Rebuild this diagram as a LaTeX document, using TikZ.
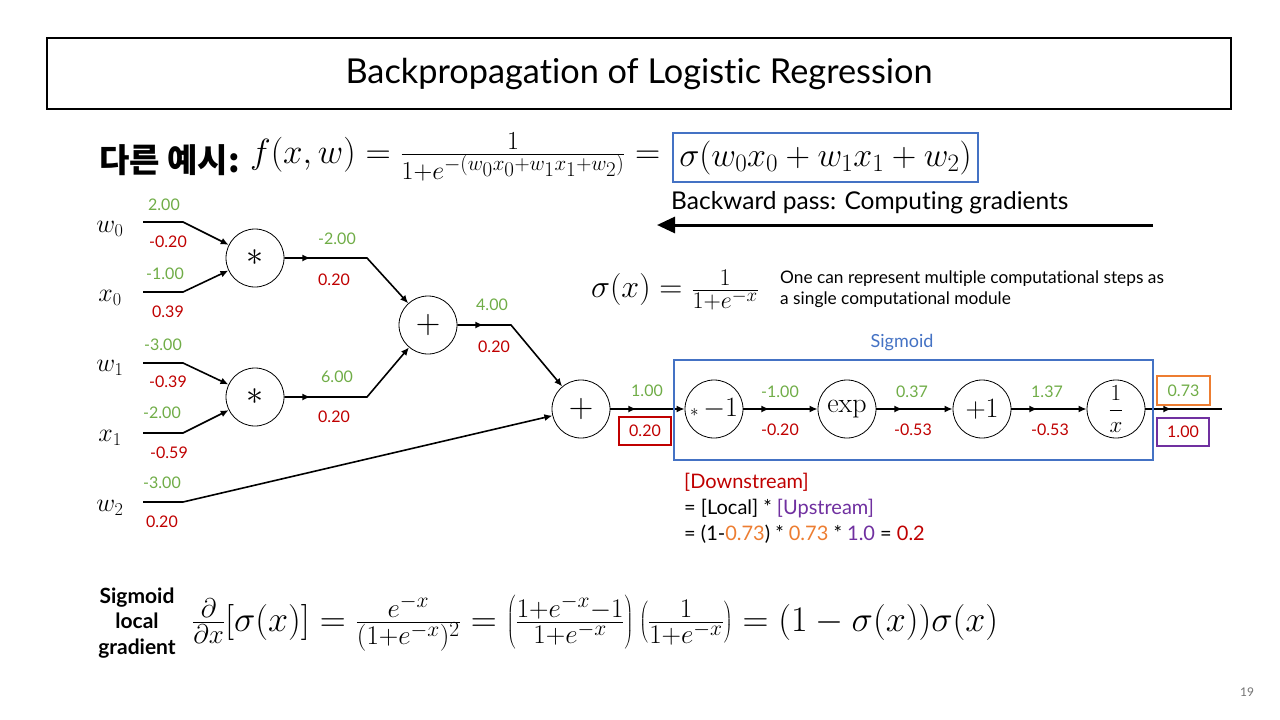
\RequirePackage{fix-cm}
\documentclass[tikz,border=0pt]{standalone}
\usepackage[no-math]{fontspec}
\setmainfont{Lato}[Ligatures=NoCommon]
\newfontfamily\kor{Noto Sans CJK KR}
\usetikzlibrary{arrows.meta,decorations.markings}
\DeclareMathSizes{36}{36}{27}{21.5}
\DeclareMathSizes{35}{35}{26}{21}
\DeclareMathSizes{34}{34}{25}{20}
\DeclareMathSizes{32}{32}{24}{19}
\definecolor{vgreen}{HTML}{70AD47}
\definecolor{vred}{HTML}{C00000}
\definecolor{vblue}{HTML}{4472C4}
\definecolor{vorange}{HTML}{ED7D31}
\definecolor{vpurple}{HTML}{7030A0}
\tikzset{
  gate/.style={circle, draw, line width=0.8pt, minimum size=58pt, inner sep=0pt, font=\fontsize{28}{28}\selectfont},
  fwd/.style={text=vgreen, font=\fontsize{16}{16}\selectfont, inner sep=0pt},
  bwd/.style={text=vred, font=\fontsize{16}{16}\selectfont, inner sep=0pt},
  conn/.style={line width=1.6pt},
  endarrow/.style={-{Latex[length=8pt,width=7pt]}},
  midarrow/.style={postaction={decorate}, decoration={markings, mark=at position 26pt with {\arrow{Latex[length=8pt,width=7pt]}}}},
  varlab/.style={font=\fontsize{26}{26}\selectfont, inner sep=0pt},
  valbox/.style={draw, line width=2.5pt, minimum width=52pt, minimum height=28pt, inner sep=0pt, font=\fontsize{16}{16}\selectfont}
}
\begin{document}
\begin{tikzpicture}[x=1pt,y=-1pt]
\useasboundingbox (0,0) rectangle (1280,720);
\fill[white] (0,0) rectangle (1280,720);

% title
\node[draw, line width=2pt, minimum width=1184pt, minimum height=71pt, inner sep=0pt,
  font=\fontsize{34.3}{34.3}\selectfont] (title) at (639,73.5) {Backpropagation of Logistic Regression};

% top equation
\node[anchor=west, inner sep=0pt, font=\kor\bfseries\fontsize{33}{33}\selectfont] (kor) at (99,160) {다른 예시:};
\node[anchor=west, inner sep=0pt, font=\fontsize{35}{35}\selectfont] (feq) at (250,157)
  {$f(x,w)=\frac{1}{1+e^{-(w_0x_0+w_1x_1+w_2)}}=$};
\node[draw=vblue, line width=2.5pt, minimum width=305pt, minimum height=49pt, inner sep=0pt,
  font=\fontsize{34}{34}\selectfont] (sbox) at (825.5,157.5) {$\sigma(w_0x_0+w_1x_1+w_2)$};

% backward pass
\node[anchor=west, inner sep=0pt, font=\fontsize{24.5}{24.5}\selectfont] (bp) at (671,203) {Backward pass: Computing gradients};
\coordinate (bpa) at (1153,225);
\coordinate (bpb) at (657,225);
\draw[line width=3pt, -{Triangle[length=18pt,width=16pt]}] (bpa) -- (bpb);

% sigma definition and note
\node[inner sep=0pt, font=\fontsize{32}{32}\selectfont] (sdef) at (675,290) {$\sigma(x)=\frac{1}{1+e^{-x}}$};
\node[anchor=west, align=left, inner sep=0pt, font=\fontsize{17.3}{21}\selectfont] (note) at (780,289)
  {One can represent multiple computational steps as\\a single computational module};

% input labels
\node[varlab] (lw0) at (110,229) {$w_0$};
\node[varlab] (lx0) at (110,298) {$x_0$};
\node[varlab] (lw1) at (110,368) {$w_1$};
\node[varlab] (lx1) at (110,438) {$x_1$};
\node[varlab] (lw2) at (110,508) {$w_2$};

\coordinate (w0s) at (143,222); \coordinate (w0b) at (183,222);
\coordinate (x0s) at (143,292); \coordinate (x0b) at (183,292);
\coordinate (w1s) at (143,363); \coordinate (w1b) at (183,363);
\coordinate (x1s) at (143,433); \coordinate (x1b) at (183,433);
\coordinate (w2s) at (143,502); \coordinate (w2b) at (183,502);

% gates
\node[gate, font=\fontsize{34}{34}\selectfont] (m1) at (255,258) {$\ast$};
\node[gate, font=\fontsize{34}{34}\selectfont] (m2) at (255,397) {$\ast$};
\node[gate, font=\fontsize{34}{34}\selectfont] (p1) at (428,325) {$+$};
\node[gate, font=\fontsize{34}{34}\selectfont] (p2) at (581,409) {$+$};
\node[gate] (n1) at (714,409) {{\fontsize{17}{17}\selectfont$\ast$}\,$-1$};
\node[gate, font=\fontsize{28}{28}\selectfont] (ex) at (847,409) {$\mathrm{exp}$};
\node[gate, font=\fontsize{28}{28}\selectfont] (a1) at (982,409) {$+1$};
\node[gate, font=\fontsize{23}{23}\selectfont] (inv) at (1116,409) {$\displaystyle\frac{1}{x}$};

\coordinate (m1b) at (367,258);
\coordinate (m2b) at (367,397);
\coordinate (p1b) at (511,325);
\coordinate (outc) at (1222,409);

% connectors
\draw[conn, endarrow] (w0s) -- (w0b) -- (m1);
\draw[conn, endarrow] (x0s) -- (x0b) -- (m1);
\draw[conn, endarrow] (w1s) -- (w1b) -- (m2);
\draw[conn, endarrow] (x1s) -- (x1b) -- (m2);
\draw[conn, endarrow] (w2s) -- (w2b) -- (p2);
\draw[conn, endarrow, midarrow] (m1) -- (m1b) -- (p1);
\draw[conn, endarrow, midarrow] (m2) -- (m2b) -- (p1);
\draw[conn, endarrow, midarrow] (p1) -- (p1b) -- (p2);
\draw[conn, endarrow, midarrow] (p2) -- (n1);
\draw[conn, endarrow, midarrow] (n1) -- (ex);
\draw[conn, endarrow, midarrow] (ex) -- (a1);
\draw[conn, endarrow, midarrow] (a1) -- (inv);
\draw[conn, midarrow] (inv) -- (outc);

% values
\node[fwd] (v1) at (164,205) {2.00};
\node[bwd] (g1) at (168,242) {-0.20};
\node[fwd] (v2) at (165,274) {-1.00};
\node[bwd] (g2) at (168,312) {0.39};
\node[fwd] (v3) at (163,345) {-3.00};
\node[bwd] (g3) at (168,382) {-0.39};
\node[fwd] (v4) at (162,413) {-2.00};
\node[bwd] (g4) at (169,453) {-0.59};
\node[fwd] (v5) at (162,483) {-3.00};
\node[bwd] (g5) at (162,522) {0.20};
\node[fwd] (v6) at (337,239) {-2.00};
\node[bwd] (g6) at (334,280) {0.20};
\node[fwd] (v7) at (337,377) {6.00};
\node[bwd] (g7) at (334,417) {0.20};
\node[fwd] (v8) at (492,305) {4.00};
\node[bwd] (g8) at (494,347) {0.20};
\node[fwd] (v9) at (647,391) {1.00};
\node[valbox, draw=vred, text=vred] (g9) at (645,431) {0.20};
\node[fwd] (v10) at (780,392) {-1.00};
\node[bwd] (g10) at (780,430) {-0.20};
\node[fwd] (v11) at (912,392) {0.37};
\node[bwd] (g11) at (913,430) {-0.53};
\node[fwd] (v12) at (1047,392) {1.37};
\node[bwd] (g12) at (1050,430) {-0.53};
\node[valbox, draw=vorange, text=vgreen, minimum width=53pt, minimum height=29pt] (v13) at (1183.5,390.5) {0.73};
\node[valbox, draw=vpurple, text=vred, minimum width=52pt, minimum height=28pt] (g13) at (1183,432) {1.00};

% sigmoid box
\node[draw=vblue, line width=2.5pt, minimum width=479pt, minimum height=100pt, inner sep=0pt] (sigbox) at (913.5,410) {};
\node[text=vblue, inner sep=0pt, font=\fontsize{18}{18}\selectfont] (siglab) at (902,343) {Sigmoid};

% downstream explanation
\node[anchor=north west, align=left, inner sep=0pt, font=\fontsize{20}{26}\selectfont] (down) at (684,473)
  {\textcolor{vred}{[Downstream]}\\
   = [Local] * \textcolor{vpurple}{[Upstream]}\\
   = (1-\textcolor{vorange}{0.73}) * \textcolor{vorange}{0.73} * \textcolor{vpurple}{1.0} = \textcolor{vred}{0.2}};

% bottom
\node[align=center, inner sep=0pt, font=\bfseries\fontsize{21}{25.5}\selectfont] (slg) at (137,623) {Sigmoid\\local\\gradient};
\node[anchor=west, inner sep=0pt, font=\fontsize{36}{36}\selectfont] (beq) at (192,623)
  {$\frac{\partial}{\partial x}\bigl[\sigma(x)\bigr]=\frac{e^{-x}}{(1+e^{-x})^2}=\left(\frac{1+e^{-x}-1}{1+e^{-x}}\right)\left(\frac{1}{1+e^{-x}}\right)=\bigl(1-\sigma(x)\bigr)\sigma(x)$};

\node[text=black!55, inner sep=0pt, font=\fontsize{12}{12}\selectfont] (pg) at (1247,692) {19};
\end{tikzpicture}
\end{document}
